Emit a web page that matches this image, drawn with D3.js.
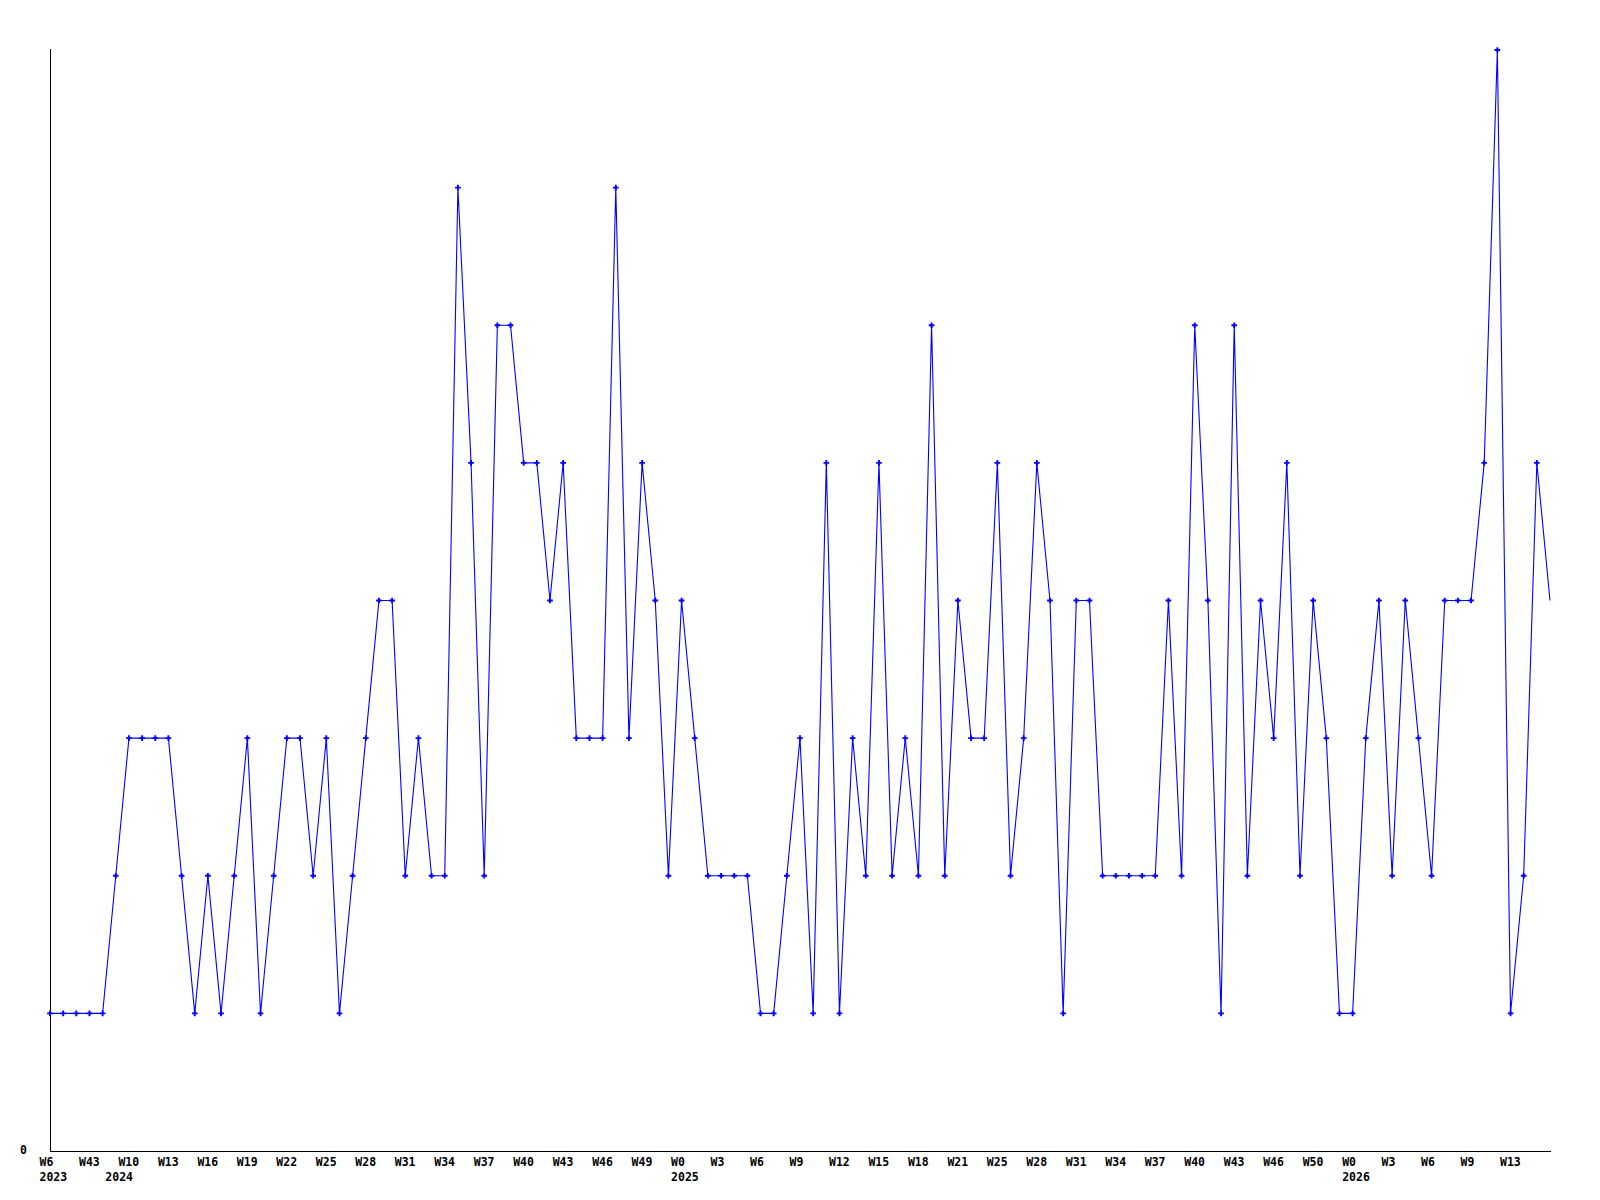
<!DOCTYPE html>
<html>
  <head>
    <meta charset="utf-8">
    <title>Weekly counts</title>
    <script src="https://d3js.org/d3.v7.min.js"></script>
    <style>
      body { margin: 0; background: #fff; }
      text { font-family: "DejaVu Sans Mono", monospace; font-weight: bold; font-size: 11.5px; fill: #000; }
    </style>
  </head>
  <body>
  <script type="text/javascript">
    // weekly values, one per point
    var values = [1,1,1,1,1,2,3,3,3,3, 2,1,2,1,2,3,1,2,3,3,
                  2,3,1,2,3,4,4,2,3,2, 2,7,5,2,6,6,5,5,4,5,
                  3,3,3,7,3,5,4,2,4,3, 2,2,2,2,1,1,2,3,1,5,
                  1,3,2,5,2,3,2,6,2,4, 3,3,5,2,3,5,4,1,4,4,
                  2,2,2,2,2,4,2,6,4,1, 6,2,4,3,5,2,4,3,1,1,
                  3,4,2,4,3,2,4,4,4,5, 8,1,2,5,4];

    // one label every third point
    var weekLabels = ["W6","W43","W10","W13","W16","W19","W22","W25","W28","W31","W34","W37","W40",
                      "W43","W46","W49","W0","W3","W6","W9","W12","W15","W18","W21","W25","W28",
                      "W31","W34","W37","W40","W43","W46","W50","W0","W3","W6","W9","W13"];
    // year labels: [point index, text]
    var yearLabels = [[0,"2023"],[5,"2024"],[48,"2025"],[99,"2026"]];

    var svg = d3.select("body").append("svg")
      .attr("width", 1600)
      .attr("height", 1200);

    var x = d3.scaleLinear()
      .domain([0, values.length - 1])
      .range([50, 1550]);

    var y = d3.scaleLinear()
      .domain([0, 8])
      .range([1151, 50]);

    // axes
    svg.append("line")
      .attr("x1", 50.5).attr("x2", 50.5)
      .attr("y1", y(8) - 1).attr("y2", y(0) + 0.5)
      .attr("stroke", "#000");
    svg.append("line")
      .attr("x1", 50).attr("x2", x(values.length - 1) + 1)
      .attr("y1", y(0) + 0.5).attr("y2", y(0) + 0.5)
      .attr("stroke", "#000");

    svg.append("text")
      .attr("x", 20)
      .attr("y", y(0) + 3)
      .text("0");

    var g = svg.append("g");

    g.selectAll(".wk")
      .data(weekLabels)
      .enter().append("text")
        .attr("class", "wk")
        .attr("x", function(d, i){ return x(i * 3) - 10.5; })
        .attr("y", 1165.5)
        .text(function(d){ return d; });

    g.selectAll(".yr")
      .data(yearLabels)
      .enter().append("text")
        .attr("class", "yr")
        .attr("x", function(d){ return x(d[0]) - 10.5; })
        .attr("y", 1181)
        .text(function(d){ return d[1]; });

    var line = d3.line()
      .x(function(d, i){ return x(i); })
      .y(function(d){ return y(d); });

    svg.append("path")
      .datum(values)
      .attr("d", line)
      .attr("fill", "none")
      .attr("stroke", "#0000ff")
      .attr("stroke-width", 1.1);

    // markers on all but the last point
    svg.selectAll(".pt")
      .data(values.slice(0, values.length - 1))
      .enter().append("path")
        .attr("class", "pt")
        .attr("transform", function(d, i){ return "translate(" + x(i) + "," + y(d) + ")"; })
        .attr("d", d3.symbol().type(d3.symbolCross).size(18))
        .attr("fill", "#0000ff");
  </script>
  </body>
</html>
